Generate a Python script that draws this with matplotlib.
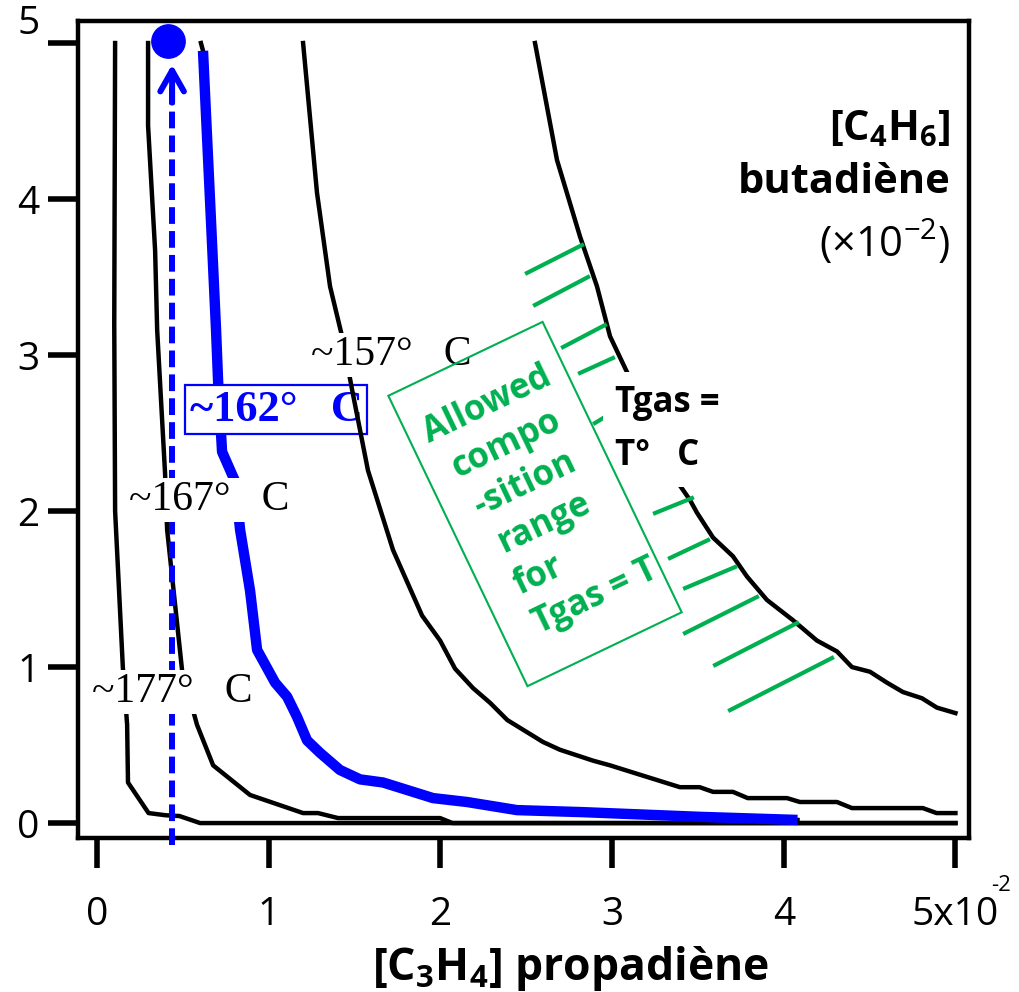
import numpy as np
import matplotlib
matplotlib.use("Agg")
import matplotlib.pyplot as plt
from matplotlib.patches import Rectangle
from matplotlib.transforms import Affine2D

plt.rcParams['font.family'] = ['Open Sans', 'DejaVu Sans']
plt.rcParams['mathtext.fontset'] = 'custom'
plt.rcParams['mathtext.rm'] = 'Open Sans'
plt.rcParams['mathtext.bf'] = 'Open Sans:bold'
plt.rcParams['mathtext.it'] = 'Open Sans:italic'

# iso-temperature curves : [C3H4] (x1e-2) vs [C4H6] (x1e-2)
c177_x = [0.105, 0.10, 0.105, 0.15, 0.175, 0.18, 0.30, 0.40, 0.48, 0.60, 5.0]
c177_y = [5.0, 3.2, 2.0, 1.0, 0.63, 0.26, 0.064, 0.05, 0.045, 0.0, 0.0]

c167_x = [0.297, 0.297, 0.338, 0.35, 0.396, 0.408, 0.495, 0.582, 0.676, 0.891, 1.2, 1.287, 1.404, 1.998, 2.07, 5.0]
c167_y = [5.0, 4.47, 3.67, 3.16, 2.24, 1.88, 0.98, 0.63, 0.37, 0.18, 0.064, 0.064, 0.032, 0.032, 0.0, 0.0]

c162_x = [0.605, 0.617, 0.658, 0.693, 0.705, 0.728, 0.804, 0.833, 0.891, 0.932, 1.037, 1.107,
          1.165, 1.223, 1.299, 1.415, 1.532, 1.666, 1.957, 2.155, 2.446, 2.83, 3.51, 4.08]
c162_y = [5.0, 4.95, 3.99, 3.16, 2.83, 2.38, 2.19, 1.88, 1.49, 1.11, 0.90, 0.81,
          0.68, 0.53, 0.45, 0.34, 0.28, 0.26, 0.16, 0.135, 0.083, 0.07, 0.04, 0.02]

c157_x = [1.20, 1.281, 1.357, 1.427, 1.485, 1.578, 1.724, 1.893, 1.998, 2.085, 2.19, 2.29, 2.39,
          2.597, 2.696, 2.889, 2.988, 3.104, 3.395, 3.51, 3.588, 3.704, 3.79, 4.019, 4.094,
          4.31, 4.397, 4.81, 4.89, 5.0]
c157_y = [5.0, 4.04, 3.44, 3.12, 2.78, 2.26, 1.75, 1.33, 1.17, 0.99, 0.865, 0.77, 0.66,
          0.52, 0.47, 0.40, 0.37, 0.33, 0.23, 0.23, 0.20, 0.20, 0.16, 0.16, 0.135,
          0.135, 0.096, 0.096, 0.064, 0.064]

cT_x = [2.551, 2.679, 2.813, 2.912, 2.988, 3.087, 3.366, 3.454, 3.494, 3.588, 3.704, 3.786,
        3.902, 4.054, 4.193, 4.31, 4.397, 4.502, 4.601, 4.694, 4.805, 4.892, 5.0]
cT_y = [5.0, 4.25, 3.76, 3.44, 3.12, 2.89, 2.21, 2.07, 1.99, 1.83, 1.71, 1.58,
        1.43, 1.30, 1.17, 1.10, 1.0, 0.97, 0.90, 0.84, 0.80, 0.74, 0.705]

# hatching of the allowed side
hatch_x0 = [2.504, 2.551, 2.714, 2.813, 2.90, 3.162, 3.25, 3.337, 3.425, 3.425, 3.60, 3.687]
hatch_y0 = [3.526, 3.321, 3.051, 2.885, 2.564, 2.179, 1.987, 1.699, 1.506, 1.218, 1.013, 0.724]
hatch_x1 = [2.825, 2.86, 2.958, 3.005, 3.005, 3.296, 3.465, 3.559, 3.716, 3.844, 4.077, 4.281]
hatch_y1 = [3.705, 3.50, 3.192, 2.981, 2.635, 2.212, 2.083, 1.814, 1.641, 1.449, 1.282, 1.058]

x_ticks = [0, 1, 2, 3, 4, 5]
x_labels = ['0', '1', '2', '3', '4', '5x10']
y_ticks = [0, 1, 2, 3, 4, 5]
y_labels = ['0', '1', '2', '3', '4', '']

c_sel = 0.437      # chosen [C3H4]
c_top = 5.0

green = '#00B050'
serif = 'Liberation Serif'

fig = plt.figure(figsize=(10.2, 9.92), dpi=100)
ax = fig.add_axes([0.0765, 0.1552, 0.8735, 0.8236])
ax.set_xlim(-0.111, 5.079)
ax.set_ylim(-0.096, 5.141)
ax.set_autoscale_on(False)

for s in ax.spines.values():
    s.set_linewidth(3.2)
ax.tick_params(axis='both', direction='out', length=21.6, width=4, labelsize=28)
ax.tick_params(axis='x', pad=20)
ax.tick_params(axis='y', pad=6)
ax.set_xticks(x_ticks)
ax.set_xticklabels(x_labels)
ax.set_yticks(y_ticks)
ax.set_yticklabels(y_labels)
ax.text(-0.043, 5.12, '5', transform=ax.get_yaxis_transform(), ha='right', va='center', fontsize=28)
fig.text(0.981, 0.107, '-2', fontsize=16, ha='center', va='center')

# curves
lw_k = 3.2
ax.plot(c177_x, c177_y, color='k', lw=lw_k, zorder=2)
ax.plot(c167_x, c167_y, color='k', lw=lw_k, zorder=2)
ax.plot(c162_x, c162_y, color='k', lw=lw_k, zorder=2)
ax.plot(c162_x[1:], c162_y[1:], color='blue', lw=7.5, zorder=3, solid_capstyle='butt')
ax.plot(c157_x, c157_y, color='k', lw=lw_k, zorder=4)
ax.plot(cT_x, cT_y, color='k', lw=lw_k, zorder=2)

for i in range(len(hatch_x0)):
    ax.plot([hatch_x0[i], hatch_x1[i]], [hatch_y0[i], hatch_y1[i]], color=green, lw=3, zorder=2)

# selected composition
ax.plot([c_sel, c_sel], [-0.14, 4.75], color='blue', lw=4.3, linestyle=(0, (2.8, 1.2)),
        zorder=3.2, clip_on=False)
ax.annotate('', xy=(c_sel, 4.88), xytext=(c_sel, 4.6),
            arrowprops=dict(arrowstyle='->,head_length=1.5,head_width=0.85', lw=4.3,
                            color='blue', mutation_scale=10, capstyle='round'), zorder=3.2)
ax.plot([0.415], [c_top + 0.01], 'o', color='blue', markersize=24, clip_on=False, zorder=6)

# temperature labels
white = dict(facecolor='white', edgecolor='none', pad=2)
ax.text(0.437, 0.84, '~177°   C', family=serif, fontsize=30, ha='center', va='center', bbox=white, zorder=5)
ax.text(0.652, 2.07, '~167°   C', family=serif, fontsize=30, ha='center', va='center', bbox=white, zorder=5)
ax.text(1.712, 3.0, '~157°   C', family=serif, fontsize=30, ha='center', va='center', bbox=white, zorder=5)
ax.text(1.043, 2.65, '~162°   C', family=serif, fontsize=32, fontweight='bold', color='blue',
        ha='center', va='center', zorder=3.5,
        bbox=dict(boxstyle='square,pad=0.1', facecolor='white', edgecolor='blue', lw=1.6))

ax.text(3.017, 2.635, 'Tgas =', fontsize=25, fontweight='bold', ha='left', va='baseline',
        bbox=dict(facecolor='white', edgecolor='none', pad=9), zorder=5)
ax.text(3.017, 2.295, 'T°   C', fontsize=25, fontweight='bold', ha='left', va='baseline',
        bbox=dict(facecolor='white', edgecolor='none', pad=9), zorder=5)

# y axis title (inside, top right)
ytr = ax.get_yaxis_transform()
ax.text(0.979, 4.38, r'$\mathbf{[C_4H_6]}$', transform=ytr, fontsize=30, ha='right', va='baseline')
ax.text(0.979, 4.04, 'butadiène', transform=ytr, fontsize=30, fontweight='bold', ha='right', va='baseline')
ax.text(0.979, 3.63, r'(×10$^{-2}$)', transform=ytr, fontsize=30, ha='right', va='baseline')

fig.text(0.559, 0.024, r'$\mathbf{[C_3H_4]}$ propadiène', fontsize=32, fontweight='bold',
         ha='center', va='center')

# allowed composition box (rotated)
theta = 25.6
rect_c = (2.551, 2.045)
ct, st = np.cos(np.radians(theta)), np.sin(np.radians(theta))
green_lines = ['Allowed', 'compo', '-sition', 'range', 'for', 'Tgas = T']
line_u = [0, 0, 0, 0, -53, -53]
line_ha = ['center', 'center', 'center', 'center', 'left', 'left']
for k, txt in enumerate(green_lines):
    v = (k - 2.5) * 44
    u = line_u[k]
    ox = u * ct + v * st
    oy = u * st - v * ct
    ax.annotate(txt, xy=rect_c, xytext=(ox * 0.72, oy * 0.72), textcoords='offset points',
                rotation=theta, rotation_mode='anchor', ha=line_ha[k], va='center',
                fontsize=25, fontweight='bold', color=green, zorder=6)

X, Y = ax.transData.transform(rect_c)
box = Rectangle((-85.5, -161), 171, 322, fill=False, ec=green, lw=1.5,
                transform=Affine2D().rotate_deg(theta).translate(X, Y), zorder=7)
fig.add_artist(box)

fig.savefig('out.png', dpi=100)
